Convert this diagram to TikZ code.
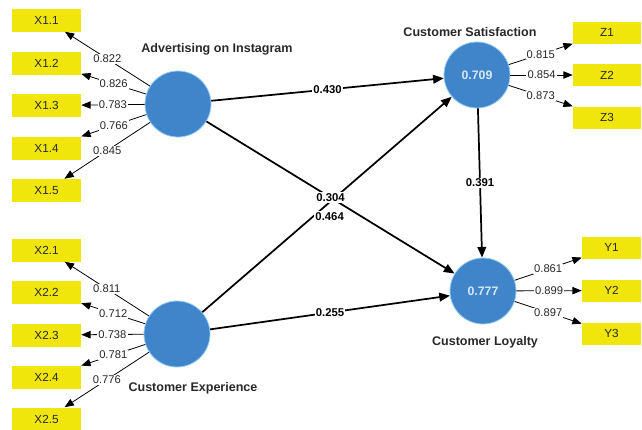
\documentclass[tikz,border=0pt]{standalone}
\usepackage{fontspec}
\setmainfont{Liberation Sans}
\usetikzlibrary{arrows.meta}
\definecolor{boxyellow}{RGB}{240,230,12}
\definecolor{lvblue}{RGB}{64,133,201}
\definecolor{lvedge}{RGB}{150,205,245}
\definecolor{rsqtext}{RGB}{215,232,250}
\definecolor{labelgray}{RGB}{40,40,40}

\begin{document}
\begin{tikzpicture}[x=0.75pt,y=0.75pt,yscale=-1,xscale=1,
  latent/.style={circle, fill=lvblue, draw=lvedge, line width=0.6pt, minimum size=49.5pt, inner sep=0pt, text=rsqtext, font=\fontsize{9.2}{10}\selectfont\bfseries},
  indic/.style={fill=boxyellow, minimum width=51.75pt, minimum height=17.25pt, inner sep=0pt, font=\fontsize{8.8}{10}\selectfont, text=labelgray},
  lvname/.style={font=\fontsize{9.4}{11}\selectfont\bfseries, text=labelgray},
  strpath/.style={line width=1.3pt, -{Triangle[length=8pt,width=6.5pt]}},
  loadpath/.style={line width=0.6pt, -{Triangle[length=7pt,width=5.5pt]}},
  coef/.style={fill=white, inner sep=0.8pt, font=\fontsize{8.5}{10}\selectfont\bfseries},
  load/.style={fill=white, inner sep=0.8pt, font=\fontsize{8.4}{10}\selectfont, text=labelgray},
]
%set diagram left start at 0, and has height of 429
\path[use as bounding box] (0,0) rectangle (642,429);

%Shape: Circle [id:adv]
\node [latent] (adv) at (178,104) {};
%Shape: Circle [id:exp]
\node [latent] (exp) at (177,334) {};
%Shape: Circle [id:sat]
\node [latent] (sat) at (477,75) {0.709};
%Shape: Circle [id:loy]
\node [latent] (loy) at (483,291) {0.777};

% Text Node
\node [lvname] at (217,49) {Advertising on Instagram};
% Text Node
\node [lvname] at (193,388) {Customer Experience};
% Text Node
\node [lvname] at (470,32) {Customer Satisfaction};
% Text Node
\node [lvname] at (485,342) {Customer Loyalty};

% Indicator boxes
\node [indic] (x11) at (46.5,20) {X1.1};
\node [indic] (x12) at (46.5,63) {X1.2};
\node [indic] (x13) at (46.5,105.5) {X1.3};
\node [indic] (x14) at (46.5,148) {X1.4};
\node [indic] (x15) at (46.5,190.5) {X1.5};
\node [indic] (x21) at (46.5,250) {X2.1};
\node [indic] (x22) at (46.5,292) {X2.2};
\node [indic] (x23) at (46.5,335) {X2.3};
\node [indic] (x24) at (46.5,377) {X2.4};
\node [indic] (x25) at (46.5,419) {X2.5};
\node [indic, minimum width=51pt, minimum height=16.5pt] (z1) at (607,32.5) {Z1};
\node [indic, minimum width=51pt, minimum height=16.5pt] (z2) at (607,75) {Z2};
\node [indic, minimum width=51pt, minimum height=16.5pt] (z3) at (607,117.5) {Z3};
\node [indic, minimum width=44.25pt, minimum height=16.5pt] (y1) at (611.5,247.5) {Y1};
\node [indic, minimum width=44.25pt, minimum height=16.5pt] (y2) at (611.5,290.5) {Y2};
\node [indic, minimum width=44.25pt, minimum height=16.5pt] (y3) at (611.5,333.5) {Y3};

%Straight Lines: outer loadings
\draw [loadpath] (adv) -- node [load] {0.822} (x11);
\draw [loadpath] (adv) -- node [load] {0.826} (x12);
\draw [loadpath] (adv) -- node [load] {0.783} (x13);
\draw [loadpath] (adv) -- node [load] {0.766} (x14);
\draw [loadpath] (adv) -- node [load] {0.845} (x15);
\draw [loadpath] (exp) -- node [load] {0.811} (x21);
\draw [loadpath] (exp) -- node [load] {0.712} (x22);
\draw [loadpath] (exp) -- node [load] {0.738} (x23);
\draw [loadpath] (exp) -- node [load] {0.781} (x24);
\draw [loadpath] (exp) -- node [load] {0.776} (x25);
\draw [loadpath] (sat) -- node [load] {0.815} (z1);
\draw [loadpath] (sat) -- node [load] {0.854} (z2);
\draw [loadpath] (sat) -- node [load] {0.873} (z3);
\draw [loadpath] (loy) -- node [load] {0.861} (y1);
\draw [loadpath] (loy) -- node [load] {0.899} (y2);
\draw [loadpath] (loy) -- node [load] {0.897} (y3);

%Straight Lines: structural paths
\draw [strpath] (adv) -- node [coef] {0.430} (sat);
\draw [strpath] (exp) -- node [coef] {0.255} (loy);
\draw [strpath] (sat) -- node [coef] {0.391} (loy);
\draw [strpath] (exp) -- node [coef, yshift=-9pt, xshift=2pt] {0.464} (sat);
\draw [strpath] (adv) -- node [coef] {0.304} (loy);

\end{tikzpicture}
\end{document}
